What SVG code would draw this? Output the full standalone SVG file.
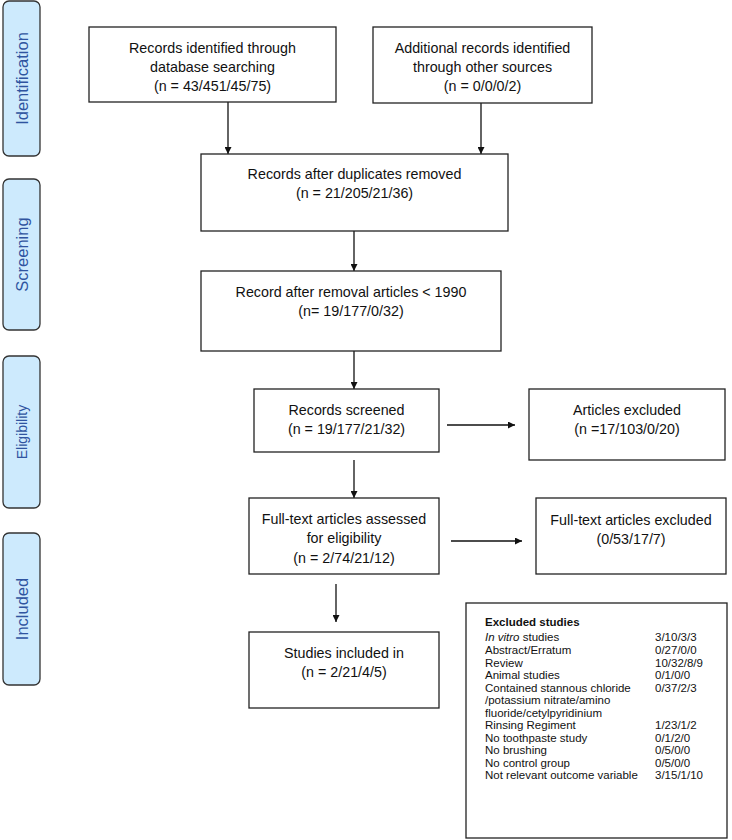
<svg xmlns="http://www.w3.org/2000/svg" width="732" height="840" viewBox="0 0 732 840">
<style>
.box{fill:#fff;stroke:#222;stroke-width:1.3}
.side{fill:#cdeafd;stroke:#333;stroke-width:1.3}
.t{font-family:"Liberation Sans",Arial,sans-serif;font-size:14.3px;fill:#111;text-anchor:middle}
.st{font-family:"Liberation Sans",Arial,sans-serif;font-size:16.5px;fill:#2f54a0;text-anchor:middle}
.s{font-family:"Liberation Sans",Arial,sans-serif;font-size:11.5px;fill:#111}
.c{stroke:#111;stroke-width:1.3;fill:none;marker-end:url(#ah)}
</style>
<defs>
<marker id="ah" viewBox="0 0 10 10" refX="10" refY="5" markerWidth="7" markerHeight="7" markerUnits="userSpaceOnUse" orient="auto">
<path d="M0,0 L10,5 L0,10 z" fill="#111"/>
</marker>
</defs>
<rect width="732" height="840" fill="#fff"/>
<g id="side-identification"><rect class="side" x="3" y="1" width="37" height="155" rx="6"/><text class="st" transform="translate(27.5,78.5) rotate(-90)">Identification</text></g>
<g id="side-screening"><rect class="side" x="3" y="179" width="37" height="151" rx="6"/><text class="st" transform="translate(27.5,254.5) rotate(-90)">Screening</text></g>
<g id="side-eligibility"><rect class="side" x="3" y="356" width="37" height="152" rx="6"/><text class="st" transform="translate(27,432) rotate(-90)" style="font-size:14px">Eligibility</text></g>
<g id="side-included"><rect class="side" x="3" y="533" width="37" height="152" rx="6"/><text class="st" transform="translate(27.5,609) rotate(-90)">Included</text></g>

<g id="connectors">
<line class="c" x1="228" y1="102" x2="228" y2="154"/>
<line class="c" x1="481" y1="103" x2="481" y2="154"/>
<line class="c" x1="354" y1="231" x2="354" y2="271"/>
<line class="c" x1="354" y1="351" x2="354" y2="389"/>
<line class="c" x1="447" y1="425" x2="515" y2="425"/>
<line class="c" x1="354" y1="460" x2="354" y2="498"/>
<line class="c" x1="451" y1="541" x2="522" y2="541"/>
<line class="c" x1="336" y1="584" x2="336" y2="622"/>
</g>

<g id="n-database"><rect class="box" x="89" y="27" width="247" height="75"/>
<text class="t" x="212.5" y="53">Records identified through</text>
<text class="t" x="212.5" y="72">database searching</text>
<text class="t" x="212.5" y="91">(n = 43/451/45/75)</text></g>

<g id="n-other"><rect class="box" x="373" y="27" width="219" height="76"/>
<text class="t" x="482.5" y="53">Additional records identified</text>
<text class="t" x="482.5" y="72">through other sources</text>
<text class="t" x="482.5" y="91">(n = 0/0/0/2)</text></g>

<g id="n-duplicates"><rect class="box" x="201" y="154" width="307" height="77"/>
<text class="t" x="354.5" y="179">Records after duplicates removed</text>
<text class="t" x="354.5" y="198">(n = 21/205/21/36)</text></g>

<g id="n-1990"><rect class="box" x="201" y="271" width="300" height="80"/>
<text class="t" x="351" y="297">Record after removal articles &lt; 1990</text>
<text class="t" x="351" y="316">(n= 19/177/0/32)</text></g>

<g id="n-screened"><rect class="box" x="254" y="389" width="185" height="63"/>
<text class="t" x="346.5" y="415">Records screened</text>
<text class="t" x="346.5" y="434">(n = 19/177/21/32)</text></g>

<g id="n-excluded"><rect class="box" x="529" y="389" width="196" height="71"/>
<text class="t" x="627" y="415">Articles excluded</text>
<text class="t" x="627" y="434">(n =17/103/0/20)</text></g>

<g id="n-fulltext"><rect class="box" x="249" y="498" width="190" height="76"/>
<text class="t" x="344" y="524">Full-text articles assessed</text>
<text class="t" x="344" y="543">for eligibility</text>
<text class="t" x="344" y="563">(n = 2/74/21/12)</text></g>

<g id="n-ftexcluded"><rect class="box" x="536" y="498" width="190" height="76"/>
<text class="t" x="631" y="525">Full-text articles excluded</text>
<text class="t" x="631" y="544">(0/53/17/7)</text></g>

<g id="n-included"><rect class="box" x="249" y="632" width="190" height="76"/>
<text class="t" x="344" y="658">Studies included in</text>
<text class="t" x="344" y="677">(n = 2/21/4/5)</text></g>

<g id="n-excludedstudies"><rect class="box" x="466" y="603" width="261" height="235"/>
<text class="s" x="485" y="626" font-weight="bold">Excluded studies</text>
<text class="s" x="485" y="641"><tspan font-style="italic">In vitro</tspan> studies</text>
<text class="s" x="485" y="654">Abstract/Erratum</text>
<text class="s" x="485" y="667">Review</text>
<text class="s" x="485" y="679">Animal studies</text>
<text class="s" x="485" y="692">Contained stannous chloride</text>
<text class="s" x="485" y="704">/potassium nitrate/amino</text>
<text class="s" x="485" y="717">fluoride/cetylpyridinium</text>
<text class="s" x="485" y="729">Rinsing Regiment</text>
<text class="s" x="485" y="742">No toothpaste study</text>
<text class="s" x="485" y="754">No brushing</text>
<text class="s" x="485" y="767">No control group</text>
<text class="s" x="485" y="779">Not relevant outcome variable</text>
<text class="s" x="655" y="641">3/10/3/3</text>
<text class="s" x="655" y="654">0/27/0/0</text>
<text class="s" x="655" y="667">10/32/8/9</text>
<text class="s" x="655" y="679">0/1/0/0</text>
<text class="s" x="655" y="692">0/37/2/3</text>
<text class="s" x="655" y="729">1/23/1/2</text>
<text class="s" x="655" y="742">0/1/2/0</text>
<text class="s" x="655" y="754">0/5/0/0</text>
<text class="s" x="655" y="767">0/5/0/0</text>
<text class="s" x="655" y="779">3/15/1/10</text></g>
</svg>
